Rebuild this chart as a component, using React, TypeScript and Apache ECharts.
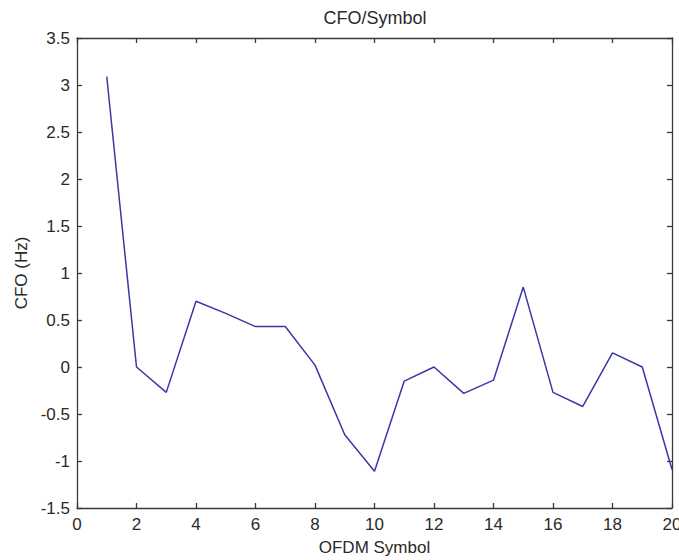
import React, { useEffect, useRef } from "react";
import * as echarts from "echarts";

const symbols = [1, 2, 3, 4, 5, 6, 7, 8, 9, 10, 11, 12, 13, 14, 15, 16, 17, 18, 19, 20];
const cfoValues = [3.09, 0.0, -0.27, 0.7, 0.57, 0.43, 0.43, 0.02, -0.72, -1.11, -0.15, 0.0, -0.28, -0.14, 0.85, -0.27, -0.42, 0.15, 0.0, -1.09];

const titleText = "CFO/Symbol";
const xLabel = "OFDM Symbol";
const yLabel = "CFO (Hz)";

const FONT = "Liberation Sans, Arial, Helvetica, sans-serif";
const AXIS_COLOR = "#3a3a3a";
const TEXT_COLOR = "#2a2a2a";

export default function App() {
  const ref = useRef<HTMLDivElement>(null);
  useEffect(() => {
    if (!ref.current) return;
    const chart = echarts.init(ref.current, null, { renderer: "svg" });
    const baseAxisLine = { show: true, onZero: false, lineStyle: { color: AXIS_COLOR, width: 1.3 } };
    const tick = { show: true, inside: true, length: 5, lineStyle: { color: AXIS_COLOR, width: 1.3 } };
    chart.setOption({
      animation: false,
      backgroundColor: "#ffffff",
      graphic: [
        {
          type: "text",
          x: 375,
          y: 9,
          style: {
            text: titleText,
            fontFamily: FONT,
            fontSize: 18,
            fill: TEXT_COLOR,
            textAlign: "center",
            textVerticalAlign: "top",
          },
        },
      ],
      grid: {
        left: 77,
        top: 38,
        width: 595,
        height: 470,
        containLabel: false,
        outerBoundsMode: "none",
      },
      xAxis: [
        {
          type: "value",
          position: "bottom",
          min: 0,
          max: 20,
          interval: 2,
          axisLine: baseAxisLine,
          axisTick: tick,
          splitLine: { show: false },
          axisLabel: { show: true, margin: 8, fontFamily: FONT, fontSize: 17, color: TEXT_COLOR },
          name: xLabel,
          nameLocation: "middle",
          nameGap: 31,
          nameTextStyle: { fontFamily: FONT, fontSize: 17, color: TEXT_COLOR },
        },
        {
          type: "value",
          position: "top",
          min: 0,
          max: 20,
          interval: 2,
          axisLine: baseAxisLine,
          axisTick: tick,
          splitLine: { show: false },
          axisLabel: { show: false },
        },
      ],
      yAxis: [
        {
          type: "value",
          position: "left",
          min: -1.5,
          max: 3.5,
          interval: 0.5,
          axisLine: baseAxisLine,
          axisTick: tick,
          splitLine: { show: false },
          axisLabel: { show: true, margin: 7, fontFamily: FONT, fontSize: 17, color: TEXT_COLOR },
          name: yLabel,
          nameLocation: "middle",
          nameGap: 47,
          nameRotate: 90,
          nameTextStyle: { fontFamily: FONT, fontSize: 17, color: TEXT_COLOR },
        },
        {
          type: "value",
          position: "right",
          min: -1.5,
          max: 3.5,
          interval: 0.5,
          axisLine: baseAxisLine,
          axisTick: tick,
          splitLine: { show: false },
          axisLabel: { show: false },
        },
      ],
      series: [
        {
          type: "line",
          xAxisIndex: 0,
          yAxisIndex: 0,
          data: symbols.map((s, i) => [s, cfoValues[i]]),
          showSymbol: false,
          symbol: "none",
          lineStyle: { color: "#3838a8", width: 1.5 },
        },
      ],
    });
    return () => chart.dispose();
  }, []);
  return (
    <div
      ref={ref}
      style={{ position: "fixed", left: 0, top: 0, width: 679, height: 560, background: "#fff" }}
    />
  );
}
